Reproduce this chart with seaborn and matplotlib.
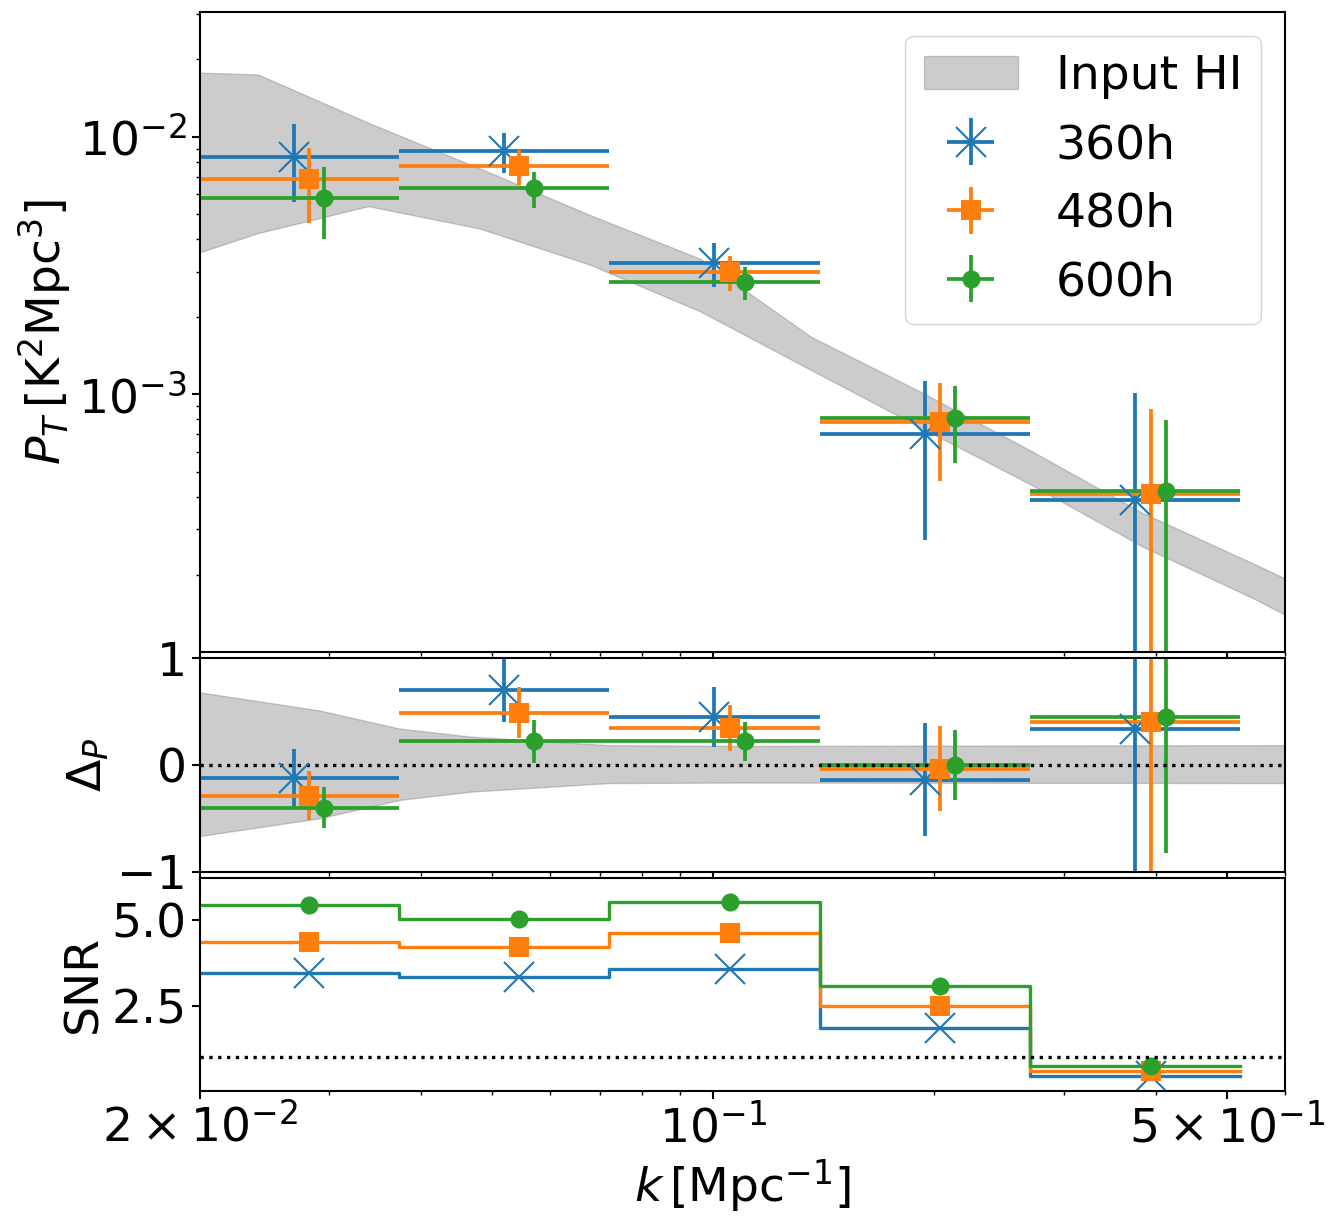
import numpy as np
import matplotlib
matplotlib.use('Agg')
import matplotlib.pyplot as plt
import seaborn as sns

# bins in k [Mpc^-1]
k_edges = [0.0193, 0.0373, 0.0721, 0.1395, 0.27, 0.522]

runs = ['360h', '480h', '600h']
colors = ['tab:blue', 'tab:orange', 'tab:green']
markers = ['x', 's', 'o']
msizes = [22, 13.5, 11.5]
shifts = [1.0, 1.05, 1.1]

# power spectrum P_T [K^2 Mpc^3]
p_360 = [8.37e-3, 8.77e-3, 3.24e-3, 7.02e-4, 3.91e-4]
p_480 = [6.84e-3, 7.68e-3, 2.99e-3, 7.85e-4, 4.10e-4]
p_600 = [5.81e-3, 6.31e-3, 2.72e-3, 8.09e-4, 4.22e-4]
perr_360 = [2.80e-3, 1.53e-3, 6.2e-4, 4.3e-4, 6.18e-4]
perr_480 = [2.20e-3, 1.20e-3, 4.7e-4, 3.23e-4, 4.69e-4]
perr_600 = [1.79e-3, 1.02e-3, 3.95e-4, 2.66e-4, 3.73e-4]

# relative deviation Delta_P
dp_360 = [-0.12, 0.70, 0.45, -0.14, 0.34]
dp_480 = [-0.29, 0.49, 0.345, -0.035, 0.40]
dp_600 = [-0.40, 0.22, 0.22, 0.0, 0.45]
dperr_360 = [0.27, 0.30, 0.28, 0.53, 2.12]
dperr_480 = [0.23, 0.24, 0.215, 0.40, 1.60]
dperr_600 = [0.19, 0.20, 0.18, 0.325, 1.28]

# signal to noise
snr_360 = [3.46, 3.34, 3.58, 1.86, 0.45]
snr_480 = [4.38, 4.22, 4.62, 2.48, 0.60]
snr_600 = [5.44, 5.05, 5.53, 3.07, 0.74]

# input HI band
k_band = [0.017, 0.024, 0.0339, 0.048, 0.0679, 0.096, 0.1358, 0.192, 0.2715, 0.384, 0.543, 0.768]
p_band_hi = [1.80e-2, 1.744e-2, 1.133e-2, 7.55e-3, 4.97e-3, 3.36e-3, 1.675e-3, 1.02e-3, 6.02e-4, 3.47e-4, 2.21e-4, 1.39e-4]
p_band_lo = [3.06e-3, 4.23e-3, 5.38e-3, 4.41e-3, 3.19e-3, 2.10e-3, 1.245e-3, 7.41e-4, 4.45e-4, 2.57e-4, 1.62e-4, 9.75e-5]

k_rel = [0.02, 0.0291, 0.0374, 0.0468, 0.072, 0.109, 0.6]
rel_hi = [0.68, 0.51, 0.34, 0.265, 0.185, 0.178, 0.185]
rel_lo = [-0.666, -0.50, -0.328, -0.25, -0.17, -0.165, -0.17]

k_ticks = [0.02, 0.1, 0.5]
k_ticklabels = [r'$\mathdefault{2\times10^{-2}}$', r'$\mathdefault{10^{-1}}$', r'$\mathdefault{5\times10^{-1}}$']

P = [p_360, p_480, p_600]
PERR = [perr_360, perr_480, perr_600]
DP = [dp_360, dp_480, dp_600]
DPERR = [dperr_360, dperr_480, dperr_600]
SNR = [snr_360, snr_480, snr_600]

plt.rcParams['font.size'] = 34
plt.rcParams['axes.linewidth'] = 1.5
plt.rcParams['xtick.major.size'] = 6
plt.rcParams['ytick.major.size'] = 6
plt.rcParams['xtick.major.width'] = 1.5
plt.rcParams['ytick.major.width'] = 1.5
plt.rcParams['xtick.minor.size'] = 3
plt.rcParams['ytick.minor.size'] = 3
plt.rcParams['xtick.minor.width'] = 1.0
plt.rcParams['ytick.minor.width'] = 1.0

edges = np.array(k_edges)
lo, hi = edges[:-1], edges[1:]
centers = np.sqrt(lo * hi)

fig = plt.figure(figsize=(13.37, 12.32), dpi=100)
gs = fig.add_gridspec(3, 1, height_ratios=[3, 1, 1], hspace=0.017,
                      left=0.1496, right=0.961, top=0.9903, bottom=0.1144)
ax1 = fig.add_subplot(gs[0])
ax2 = fig.add_subplot(gs[1], sharex=ax1)
ax3 = fig.add_subplot(gs[2], sharex=ax1)

# top panel
ax1.fill_between(k_band, p_band_lo, p_band_hi, color='grey', alpha=0.4, label='Input HI')
for i in range(3):
    x = centers * shifts[i]
    xerr = [x - lo, hi - x]
    ax1.errorbar(x, P[i], yerr=PERR[i], xerr=xerr, fmt=markers[i], color=colors[i],
                 ms=msizes[i], mew=1.5, elinewidth=2.7, label=runs[i])
ax1.set_xscale('log')
ax1.set_yscale('log')
ax1.set_xlim(0.02, 0.6)
ax1.set_ylim(1e-4, 3.05e-2)
ax1.set_yticks([1e-3, 1e-2])
ax1.set_ylabel(r'$P_T\,[\mathrm{K}^2\mathrm{Mpc}^3]$')
ax1.legend(loc='upper right', fontsize=34)
ax1.tick_params(labelbottom=False)

# middle panel
ax2.fill_between(k_rel, rel_lo, rel_hi, color='grey', alpha=0.4)
for i in range(3):
    x = centers * shifts[i]
    xerr = [x - lo, hi - x]
    ax2.errorbar(x, DP[i], yerr=DPERR[i], xerr=xerr, fmt=markers[i], color=colors[i],
                 ms=msizes[i], mew=1.5, elinewidth=2.7)
ax2.axhline(0, color='k', ls=':', lw=2.4)
ax2.set_ylim(-1, 1)
ax2.set_yticks([-1, 0, 1])
ax2.set_ylabel(r'$\Delta_P$')
ax2.tick_params(labelbottom=False)

# SNR panel
for i in range(3):
    sns.lineplot(x=edges, y=np.append(SNR[i], SNR[i][-1]), drawstyle='steps-post',
                 color=colors[i], lw=2.4, ax=ax3)
    ax3.plot(centers * shifts[1], SNR[i], markers[i], color=colors[i], ms=msizes[i], mew=1.5)
ax3.axhline(1, color='k', ls=':', lw=2.4)
ax3.set_ylim(0, 6.25)
ax3.set_yticks([2.5, 5.0])
ax3.set_ylabel('SNR')
ax3.set_xticks(k_ticks, labels=k_ticklabels)
ax3.set_xlim(0.02, 0.6)
ax3.set_xlabel(r'$k\,[\mathrm{Mpc}^{-1}]$')

fig.savefig('out.png', dpi=100)
